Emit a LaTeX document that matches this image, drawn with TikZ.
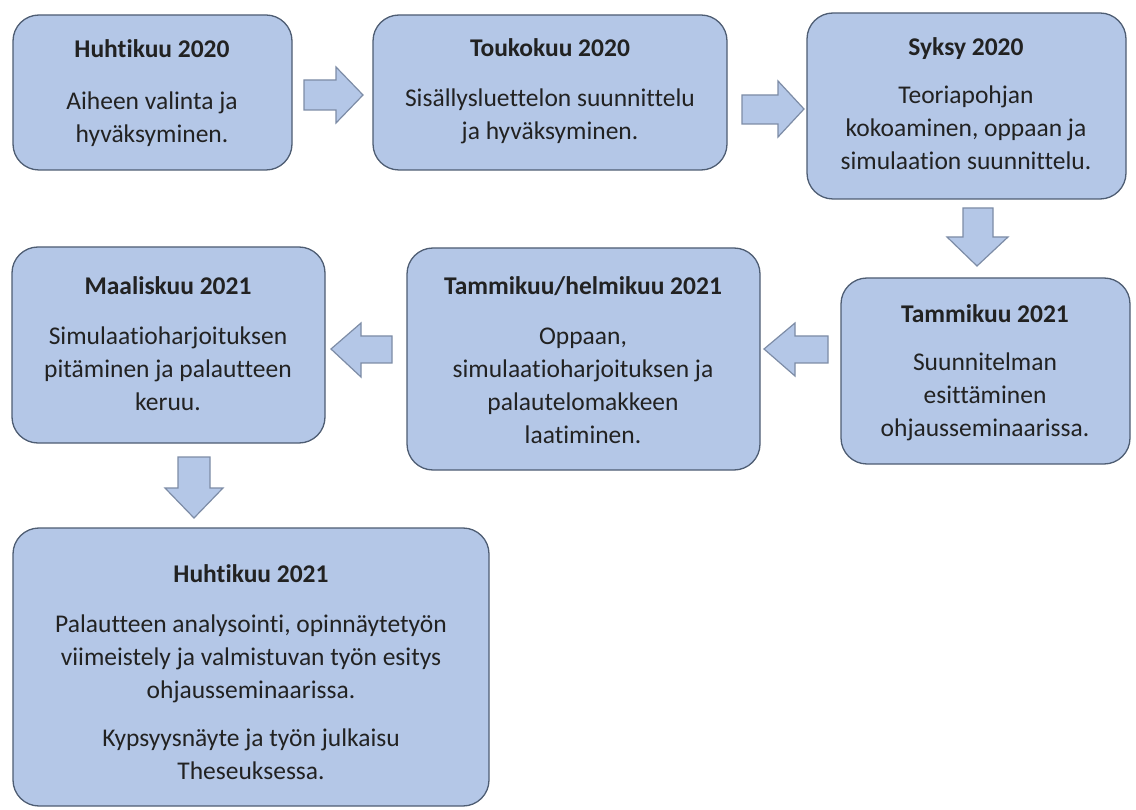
\documentclass[tikz,border=0pt]{standalone}
\usepackage{fontspec}
\setmainfont{Carlito}[Ligatures=NoCommon]
\definecolor{boxfill}{HTML}{B4C7E7}
\definecolor{boxline}{HTML}{4E5D73}
\definecolor{arrline}{HTML}{7D8CA6}
\definecolor{txtcol}{HTML}{222222}
\begin{document}
\begin{tikzpicture}[x=1pt,y=-1pt,
  box/.style={draw=boxline,line width=1.3pt,fill=boxfill,rounded corners=26pt},
  txt/.style={align=center,text=txtcol,font=\fontsize{25.5}{33}\selectfont,inner sep=0pt,anchor=base},
  blockarrow/.style={draw=arrline,line width=1.2pt,fill=boxfill,line join=miter}]
\useasboundingbox (0,0) rectangle (1136,810);
\fill[white] (0,0) rectangle (1136,810);
% boxes
\draw[box] (13,15) rectangle (292,170) node[coordinate] (b1) {};
\draw[box] (373,15) rectangle (727,170) node[coordinate] (b2) {};
\draw[box] (807,13) rectangle (1126,199) node[coordinate] (b3) {};
\draw[box] (841,278) rectangle (1130,464) node[coordinate] (b4) {};
\draw[box] (407,248) rectangle (760,470) node[coordinate] (b5) {};
\draw[box] (12,247) rectangle (325,443) node[coordinate] (b6) {};
\draw[box] (13,528) rectangle (489,806) node[coordinate] (b7) {};
% texts (anchored at the baseline of the last line)
\node[txt] (t1) at (152,143) {\textbf{Huhtikuu 2020}\\[19pt]Aiheen valinta ja\\hyväksyminen.};
\node[txt] (t2) at (550,140) {\textbf{Toukokuu 2020}\\[17pt]Sisällysluettelon suunnittelu\\ja hyväksyminen.};
\node[txt] (t3) at (966,170) {\textbf{Syksy 2020}\\[15pt]Teoriapohjan\\kokoaminen, oppaan ja\\simulaation suunnittelu.};
\node[txt] (t4) at (985,436) {\textbf{Tammikuu 2021}\\[15pt]Suunnitelman\\esittäminen\\ohjausseminaarissa.};
\node[txt] (t5) at (583,443) {\textbf{Tammikuu/helmikuu 2021}\\[17pt]Oppaan,\\simulaatioharjoituksen ja\\palautelomakkeen\\laatiminen.};
\node[txt] (t6) at (168,410) {\textbf{Maaliskuu 2021}\\[17pt]Simulaatioharjoituksen\\pitäminen ja palautteen\\keruu.};
\node[txt] (t7) at (251,779) {\textbf{Huhtikuu 2021}\\[17pt]Palautteen analysointi, opinnäytetyön\\viimeistely ja valmistuvan työn esitys\\ohjausseminaarissa.\\[15pt]Kypsyysnäyte ja työn julkaisu\\Theseuksessa.};
% block arrows
\draw[blockarrow] (304,80) -- (336,80) -- (336,67) -- (363,95) -- (336,123) -- (336,110) -- (304,110) -- cycle;
\draw[blockarrow] (742,95) -- (778,95) -- (778,81) -- (804,109) -- (778,137) -- (778,124) -- (742,124) -- cycle;
\draw[blockarrow] (963,208) -- (993,208) -- (993,237) -- (1008,237) -- (977,266) -- (947,237) -- (963,237) -- cycle;
\draw[blockarrow] (828,336) -- (795,336) -- (795,323) -- (764,349) -- (795,376) -- (795,363) -- (828,363) -- cycle;
\draw[blockarrow] (392,336) -- (361,336) -- (361,323) -- (331,349) -- (361,377) -- (361,363) -- (392,363) -- cycle;
\draw[blockarrow] (178,457) -- (210,457) -- (210,488) -- (223,488) -- (194,518) -- (165,488) -- (178,488) -- cycle;
\end{tikzpicture}
\end{document}
